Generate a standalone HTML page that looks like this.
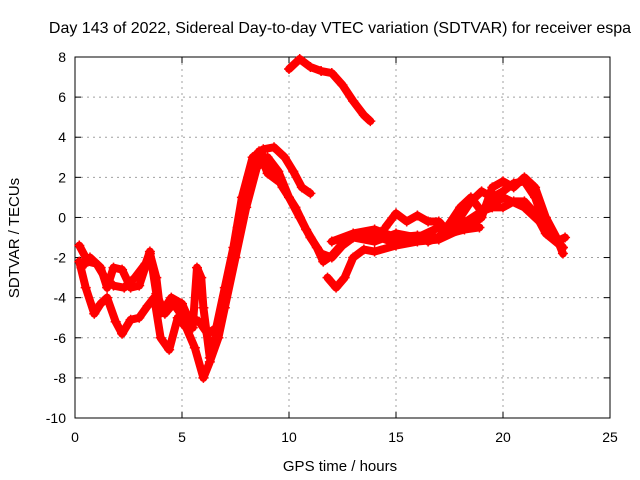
<!DOCTYPE html>
<html><head><meta charset="utf-8"><style>
body{margin:0;background:#fff;}
svg{display:block;font-family:"Liberation Sans",sans-serif;}
</style></head><body>
<svg id="chart" width="640" height="480">
<rect width="640" height="480" fill="#fff"/>
<text x="340" y="33" font-size="16" text-anchor="middle">Day 143 of 2022, Sidereal Day-to-day VTEC variation (SDTVAR) for receiver espa</text>
<g id="grid"></g><g id="axes"></g><g id="series"></g>
<text x="340" y="471" font-size="15" text-anchor="middle">GPS time / hours</text>
<text transform="translate(19,238) rotate(-90)" font-size="15" text-anchor="middle">SDTVAR / TECUs</text>
</svg>
<script>
const xTicks=[0,5,10,15,20,25];
const yTicks=[8,6,4,2,0,-2,-4,-6,-8,-10];
const track1=[[0.2,-2.2],[0.5,-3.5],[0.9,-4.8],[1.2,-4.3],[1.5,-4.0],[1.9,-5.2],[2.2,-5.8],[2.6,-5.1],[3.0,-5.0],[3.4,-4.4],[3.7,-4.0],[4.0,-6.0],[4.4,-6.6],[4.8,-5.0],[5.2,-5.5],[5.6,-6.5],[6.0,-8.0],[6.3,-7.2],[6.7,-6.0],[7.0,-4.5],[7.5,-2.0],[8.0,0.5],[8.5,2.5],[9.0,3.0],[9.5,2.3],[10,1.0],[10.5,0],[11,-1.0],[11.5,-1.8],[12,-2.0],[12.5,-1.4],[13,-1.0],[14,-1.2],[15,-0.8],[16,-1.0],[17,-0.5],[18,-0.4],[19,0.3],[20,1.0],[21,0.5],[22,-0.5],[22.8,-1.5]];
const track2=[[0.2,-1.4],[0.6,-2.2],[1.0,-2.3],[1.4,-3.0],[1.8,-3.4],[2.3,-3.5],[2.8,-3.0],[3.3,-2.3],[3.5,-1.7],[3.8,-3.8],[4.2,-4.8],[4.6,-4.3],[5.0,-4.9],[5.5,-5.0],[5.8,-5.2],[6.2,-5.8],[6.6,-5.5],[7.0,-3.5],[7.4,-1.5],[7.8,1.0],[8.3,3.0],[8.8,3.4],[9.3,3.5],[9.8,3.0],[10.2,2.3],[10.6,1.5],[11,1.2]];
const track3=[[8.7,3.2],[9.2,2.5],[9.7,1.5],[10.3,0.5],[10.8,-0.6],[11.3,-1.5],[11.6,-2.2],[12,-1.9],[12.5,-1.3],[13,-1.0],[14,-0.9],[15,-1.3]];
const track4=[[11.8,-3.0],[12.2,-3.5],[12.6,-3.0],[13,-2.0],[13.5,-1.6],[14,-1.7],[15,-1.4],[16,-1.2],[17,-1.1],[18,-0.6],[18.5,-0.4],[19,0],[19.5,1.5],[20,1.8],[20.5,1.5],[21,2.0],[21.5,1.5],[22,0],[22.5,-1],[22.8,-1.8]];
const track5=[[0.3,-2.5],[0.7,-2.0],[1.2,-2.5],[1.5,-3.5],[1.8,-2.5],[2.2,-2.6],[2.6,-3.5],[3.0,-3.4],[3.5,-1.8],[3.8,-3.0],[4.0,-4.8],[4.5,-4.0],[5,-4.3],[5.5,-5.5],[5.7,-2.5],[5.9,-3.0],[6.0,-4.5],[6.3,-7.0],[6.8,-5.0],[7.2,-3.0],[7.6,-0.5],[8.1,2.0],[8.6,3.3],[9.0,2.2],[9.5,1.8]];
const track6=[[10.0,7.4],[10.5,7.9],[11,7.5],[11.5,7.3],[12,7.2],[12.5,6.6],[13,5.8],[13.5,5.1],[13.8,4.8]];
const track7=[[14.5,-0.5],[15,0.2],[15.5,-0.2],[16,0.1],[16.5,-0.2],[17,-0.2],[17.5,-0.8],[18,0],[18.5,0.8],[19,1.3],[19.5,1.0],[20,1.3],[20.5,1.7],[21,1.8],[21.5,1.0],[22,-0.5],[22.5,-1.2],[22.9,-1.0]];
const track8=[[12,-1.2],[13,-0.8],[14,-0.6],[15,-1.0],[16,-0.9],[17,-1.0],[17.5,-0.3],[18,0.5],[18.5,1.0],[19,0.3],[19.5,0.5],[20,0.5],[20.5,0.8],[21,0.8],[21.5,0.2],[22,-0.8],[22.8,-1.5]];
const track9=[[16.5,-1.2],[17.5,-0.8],[18.2,-0.6],[18.9,-0.5]];
const tracks=[track1,track2,track3,track4,track5,track6,track7,track8,track9];

const L=75,R=610,T=57,B=418,xMin=0,xMax=25,yMin=-10,yMax=8;
const sx=t=>L+(t-xMin)/(xMax-xMin)*(R-L);
const sy=v=>B-(v-yMin)/(yMax-yMin)*(B-T);
const NS="http://www.w3.org/2000/svg";
function mk(tag,parent){const e=document.createElementNS(NS,tag);parent.appendChild(e);return e;}
const grid=document.getElementById('grid'),axes=document.getElementById('axes'),series=document.getElementById('series');
xTicks.forEach(t=>{
  const x=sx(t);
  if(t>xMin&&t<xMax){const g=mk('line',grid);g.setAttribute('x1',x);g.setAttribute('x2',x);g.setAttribute('y1',T);g.setAttribute('y2',B);g.setAttribute('stroke','#a0a0a0');g.setAttribute('stroke-dasharray','2,4');
  
  }
  const lb=mk('text',axes);lb.setAttribute('x',x);lb.setAttribute('y',B+24);lb.setAttribute('font-size','14');lb.setAttribute('text-anchor','middle');lb.textContent=t;
  
  
  [[B,B-6],[T,T+6]].forEach(p=>{const k=mk('line',axes);k.setAttribute('x1',x);k.setAttribute('x2',x);k.setAttribute('y1',p[0]);k.setAttribute('y2',p[1]);k.setAttribute('stroke','#000');});
});
yTicks.forEach(v=>{
  const y=sy(v);
  if(v>yMin&&v<yMax){const g=mk('line',grid);g.setAttribute('x1',L);g.setAttribute('x2',R);g.setAttribute('y1',y);g.setAttribute('y2',y);g.setAttribute('stroke','#a0a0a0');g.setAttribute('stroke-dasharray','2,4');
  
  }
  const lb=mk('text',axes);lb.setAttribute('x',L-9);lb.setAttribute('y',y+5);lb.setAttribute('font-size','14');lb.setAttribute('text-anchor','end');lb.textContent=v;
  
  
  [[L,L+6],[R,R-6]].forEach(p=>{const k=mk('line',axes);k.setAttribute('x1',p[0]);k.setAttribute('x2',p[1]);k.setAttribute('y1',y);k.setAttribute('y2',y);k.setAttribute('stroke','#000');});
});
const fr=mk('rect',axes);fr.setAttribute('x',L);fr.setAttribute('y',T);fr.setAttribute('width',R-L);fr.setAttribute('height',B-T);fr.setAttribute('fill','none');fr.setAttribute('stroke','#000');


tracks.forEach((tr,i)=>{
  const pl=mk('polyline',series);
  pl.setAttribute('points',tr.map(p=>sx(p[0])+','+sy(p[1])).join(' '));
  pl.setAttribute('fill','none');pl.setAttribute('stroke','#ff0000');pl.setAttribute('stroke-width','8');pl.setAttribute('stroke-linejoin','round');pl.setAttribute('stroke-linecap','round');
  
  
  tr.forEach(p=>{
    const m=mk('path',series);const x=sx(p[0]),y=sy(p[1]);
    m.setAttribute('d',`M${x-5},${y}H${x+5}M${x},${y-5}V${y+5}`);m.setAttribute('stroke','#ff0000');m.setAttribute('stroke-width','1.5');
    
    
  });
});
</script>
</body></html>
